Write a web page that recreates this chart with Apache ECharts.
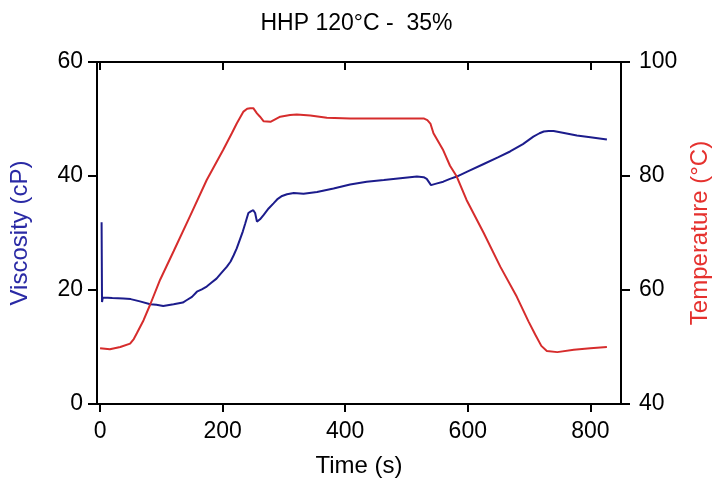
<!DOCTYPE html>
<html>
<head>
<meta charset="utf-8">
<script src="https://cdn.jsdelivr.net/npm/echarts@6/dist/echarts.min.js"></script>
<style>
html,body{margin:0;padding:0;background:#fff;}
#chart{width:713px;height:483px;}
</style>
</head>
<body>
<div id="chart"></div>
<script>
const chartTitle = 'HHP 120°C -  35%';
const xTicks = [0, 200, 400, 600, 800];
const viscTime = [2.5, 3.2, 4.5, 20, 38, 50, 65, 82, 92, 103, 120, 135, 141, 150, 158, 166, 174, 182, 190, 198, 207, 213, 218, 223, 228, 233, 237, 242, 246, 250, 253, 256, 261, 267, 275, 283, 290, 297, 305, 316, 332, 354, 381, 408, 435, 463, 490, 517, 528, 533, 540, 550, 560, 571, 582, 600, 626, 650, 669, 690, 707, 717, 724, 732, 740, 755, 778, 800, 827];
const viscValues = [31.9, 17.9, 18.7, 18.6, 18.5, 18.4, 18.0, 17.5, 17.4, 17.2, 17.5, 17.8, 18.2, 18.8, 19.7, 20.1, 20.6, 21.3, 22.0, 23.0, 24.1, 25.0, 26.1, 27.3, 28.8, 30.3, 31.7, 33.5, 33.8, 34.0, 33.5, 32.0, 32.4, 33.2, 34.3, 35.2, 36.0, 36.5, 36.8, 37.0, 36.9, 37.2, 37.8, 38.5, 39.0, 39.3, 39.6, 39.9, 39.8, 39.5, 38.4, 38.7, 39.0, 39.5, 39.9, 40.8, 42.1, 43.3, 44.3, 45.6, 46.9, 47.5, 47.8, 47.9, 47.9, 47.6, 47.1, 46.8, 46.4];
const tempTime = [0, 16, 33, 49, 55, 60, 71, 82, 98, 120, 147, 174, 201, 215, 223, 234, 240, 245, 250, 256, 261, 267, 278, 294, 310, 321, 343, 370, 408, 463, 528, 534, 539, 544, 560, 571, 582, 598, 626, 653, 680, 699, 710, 720, 729, 746, 773, 800, 827];
const tempValues = [49.8, 49.6, 50.0, 50.6, 51.4, 52.4, 54.7, 57.5, 61.8, 66.8, 73.0, 79.3, 84.6, 87.5, 89.2, 91.3, 91.8, 91.9, 91.9, 91.0, 90.4, 89.6, 89.5, 90.4, 90.7, 90.8, 90.6, 90.2, 90.1, 90.1, 90.1, 89.8, 89.2, 87.5, 84.5, 81.8, 79.9, 75.8, 70.0, 64.1, 58.8, 54.5, 52.2, 50.2, 49.3, 49.1, 49.5, 49.8, 50.0];

const viscData = viscTime.map((t, i) => [t, viscValues[i]]);
const tempData = tempTime.map((t, i) => [t, tempValues[i]]);

const FONT = 'Liberation Sans, Arial, sans-serif';
const chart = echarts.init(document.getElementById('chart'), null, {renderer: 'canvas'});
const axisLineStyle = {color: '#000', width: 2};
chart.setOption({
  animation: false,
  backgroundColor: '#fff',
  title: {
    text: chartTitle, left: 'center', top: 7,
    textStyle: {fontFamily: FONT, fontSize: 23, fontWeight: 'normal', color: '#000'}
  },
  grid: {left: 97, right: 92, top: 62, bottom: 79, containLabel: false, outerBoundsMode: 'none'},
  xAxis: [{
    type: 'value', min: -5, max: 850, position: 'bottom',
    name: 'Time (s)', nameLocation: 'middle', nameGap: 50,
    nameTextStyle: {fontFamily: FONT, fontSize: 24, color: '#000'},
    axisLine: {show: true, onZero: false, lineStyle: axisLineStyle},
    axisTick: {show: true, length: 8, inside: false, customValues: xTicks, lineStyle: axisLineStyle},
    axisLabel: {show: true, customValues: xTicks, fontFamily: FONT, fontSize: 23, color: '#000', margin: 16},
    splitLine: {show: false}
  }, {
    type: 'value', min: -5, max: 850, position: 'top',
    axisLine: {show: true, onZero: false, lineStyle: axisLineStyle},
    axisTick: {show: true, length: 8, inside: true, customValues: xTicks, lineStyle: axisLineStyle},
    axisLabel: {show: false},
    splitLine: {show: false}
  }],
  yAxis: [{
    type: 'value', min: 0, max: 60, interval: 20, position: 'left',
    name: 'Viscosity (cP)', nameLocation: 'middle', nameGap: 65,
    nameTextStyle: {fontFamily: FONT, fontSize: 24, color: '#2a2aa5'},
    axisLine: {show: true, onZero: false, lineStyle: axisLineStyle},
    axisTick: {show: true, length: 9, inside: false, lineStyle: axisLineStyle},
    axisLabel: {fontFamily: FONT, fontSize: 23, color: '#000', margin: 14},
    splitLine: {show: false}
  }, {
    type: 'value', min: 40, max: 100, interval: 20, position: 'right',
    name: 'Temperature (°C)', nameLocation: 'middle', nameGap: 63,
    nameTextStyle: {fontFamily: FONT, fontSize: 24, color: '#e5312e'},
    axisLine: {show: true, onZero: false, lineStyle: axisLineStyle},
    axisTick: {show: true, length: 9, inside: false, lineStyle: axisLineStyle},
    axisLabel: {fontFamily: FONT, fontSize: 23, color: '#000', margin: 18},
    splitLine: {show: false}
  }],
  series: [{
    type: 'line', name: 'Viscosity', xAxisIndex: 0, yAxisIndex: 0,
    data: viscData, showSymbol: false, smooth: false,
    lineStyle: {color: '#1c1c8c', width: 2}, itemStyle: {color: '#1c1c8c'}
  }, {
    type: 'line', name: 'Temperature', xAxisIndex: 0, yAxisIndex: 1,
    data: tempData, showSymbol: false, smooth: false,
    lineStyle: {color: '#d62c2c', width: 2}, itemStyle: {color: '#d62c2c'}
  }]
});
</script>
</body>
</html>
